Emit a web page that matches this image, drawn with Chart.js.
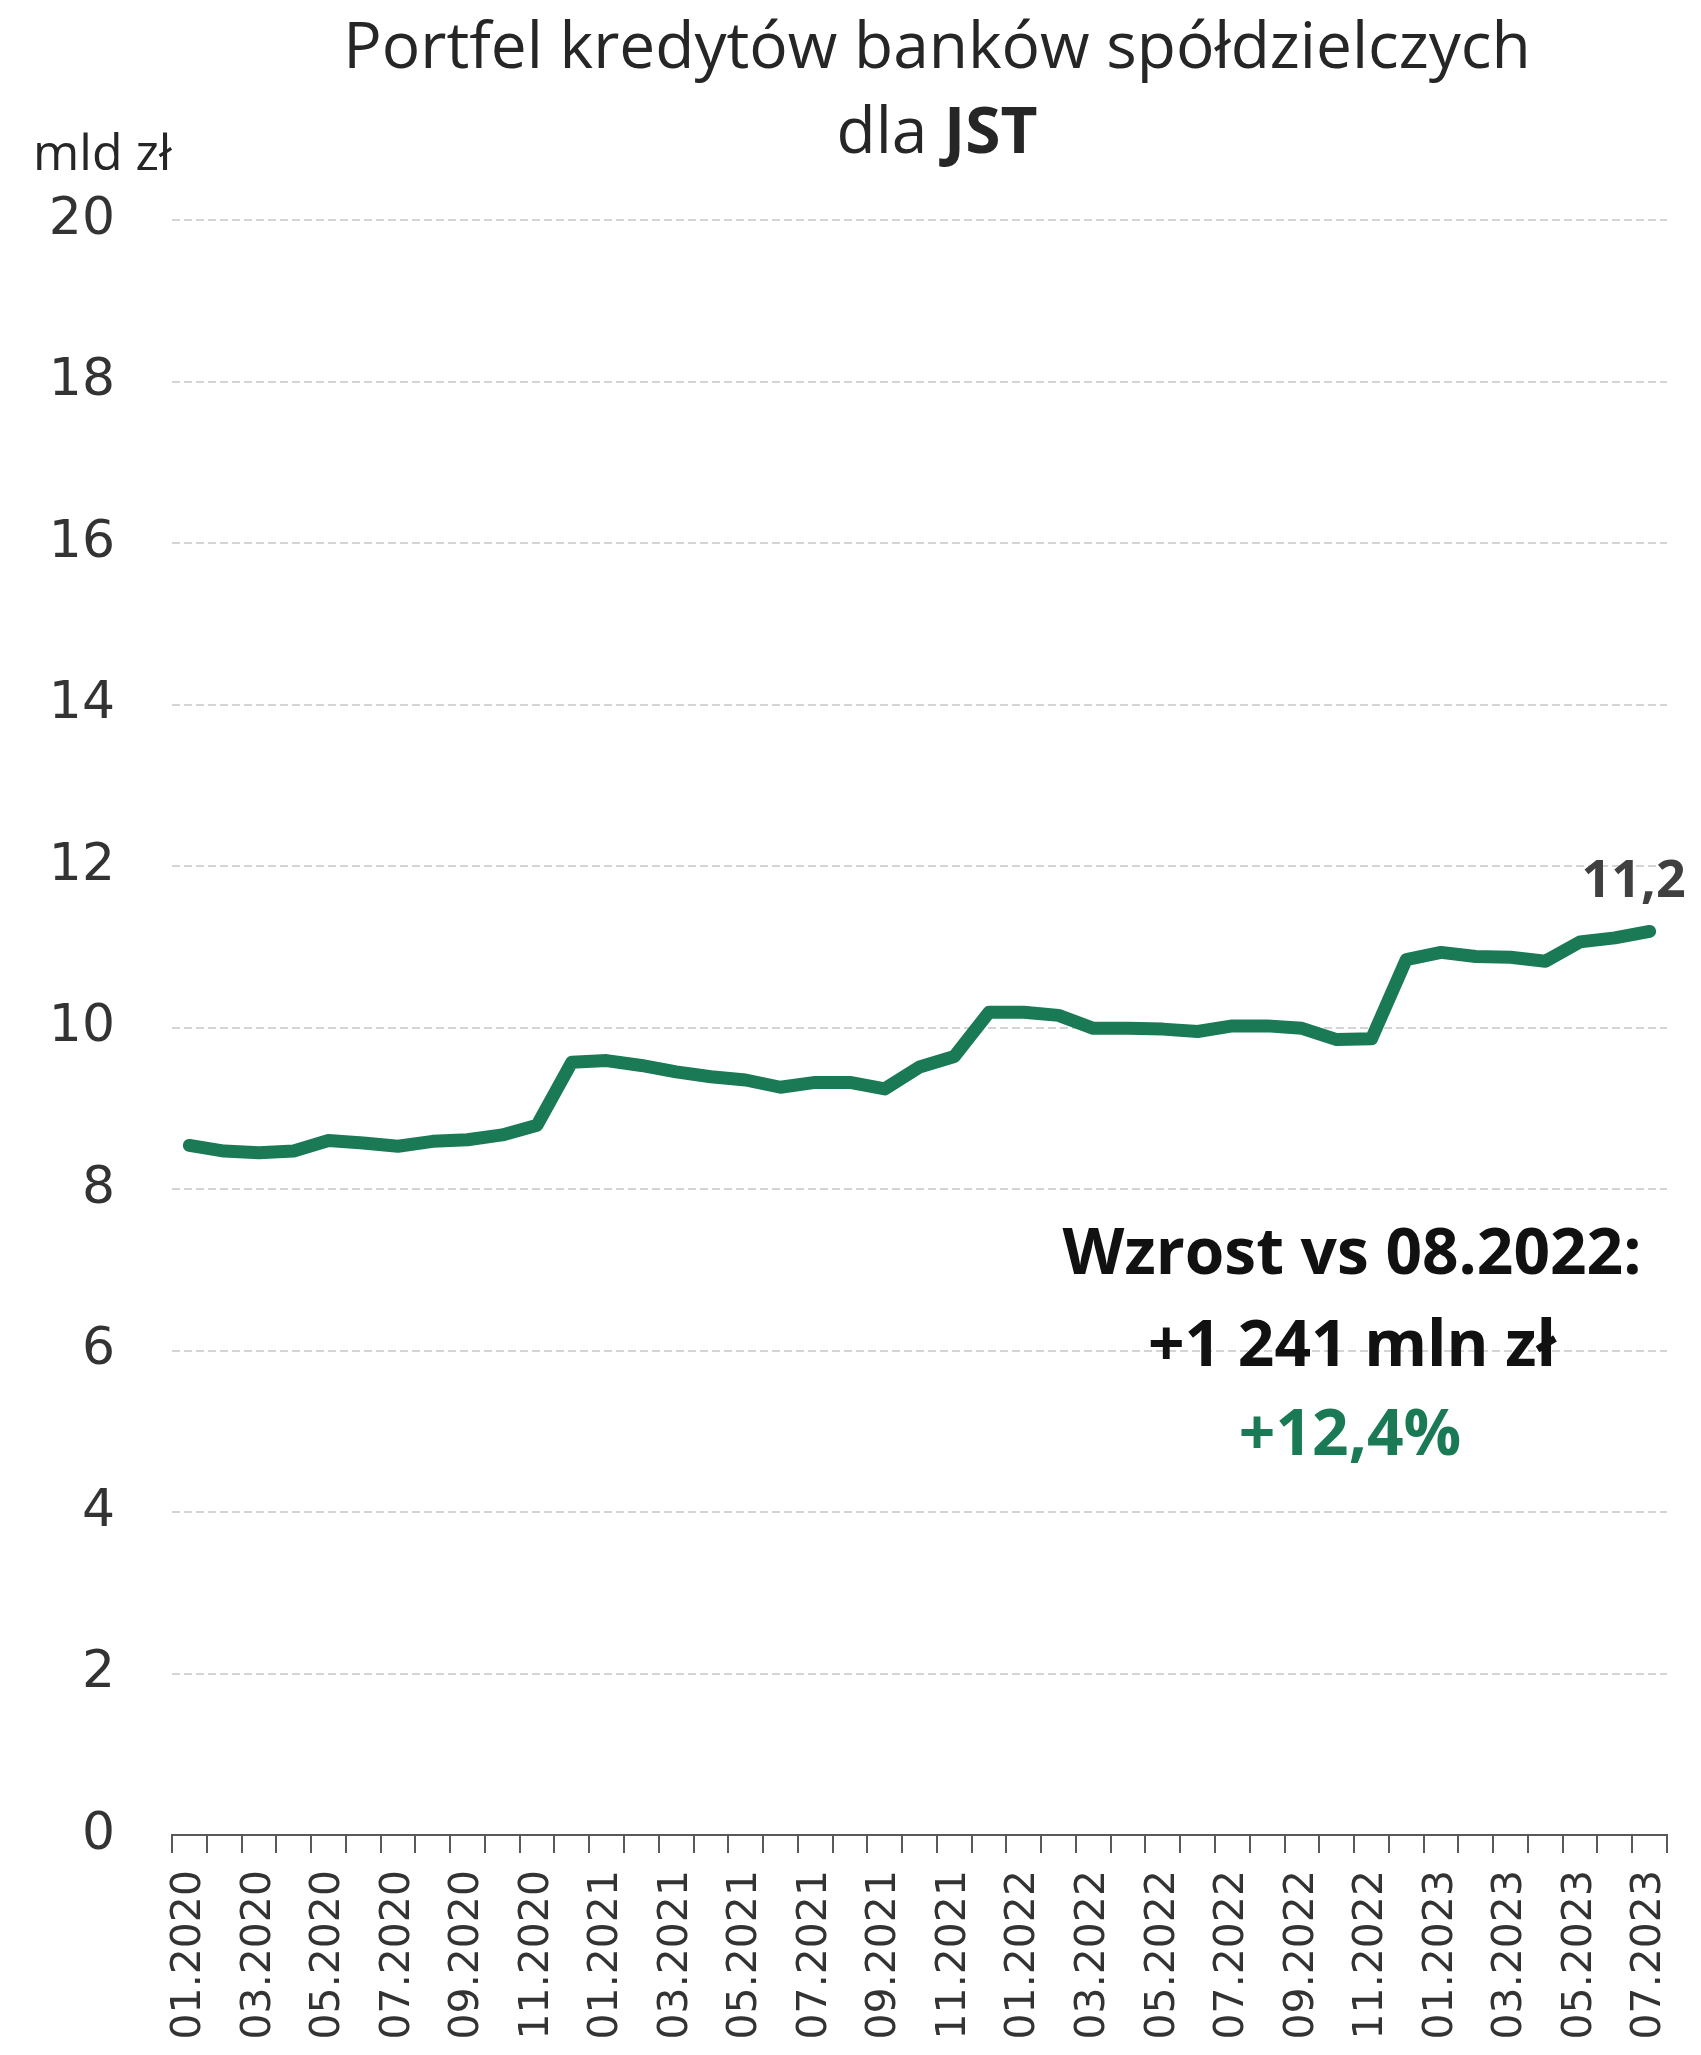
<!DOCTYPE html>
<html>
<head>
<meta charset="utf-8">
<script src="https://cdn.jsdelivr.net/npm/chart.js@4/dist/chart.umd.min.js"></script>
<style>
  html, body { margin: 0; padding: 0; background: #ffffff; }
  canvas { display: block; }
</style>
</head>
<body>
<canvas id="chart" width="1701" height="2055"></canvas>
<script>
// ---------------- data ----------------
const categories = [
  '01.2020','02.2020','03.2020','04.2020','05.2020','06.2020','07.2020','08.2020','09.2020','10.2020','11.2020','12.2020',
  '01.2021','02.2021','03.2021','04.2021','05.2021','06.2021','07.2021','08.2021','09.2021','10.2021','11.2021','12.2021',
  '01.2022','02.2022','03.2022','04.2022','05.2022','06.2022','07.2022','08.2022','09.2022','10.2022','11.2022','12.2022',
  '01.2023','02.2023','03.2023','04.2023','05.2023','06.2023','07.2023'
];
const loansJST = [
  8.54, 8.47, 8.45, 8.47, 8.60, 8.57, 8.53, 8.59, 8.61, 8.67, 8.79, 9.57,
  9.59, 9.53, 9.45, 9.39, 9.35, 9.26, 9.32, 9.32, 9.24, 9.51, 9.64, 10.19,
  10.19, 10.15, 9.99, 9.99, 9.98, 9.95, 10.02, 10.02, 9.99, 9.85, 9.86, 10.84,
  10.93, 10.88, 10.87, 10.82, 11.06, 11.11, 11.19
];
const yMin = 0;
const yMax = 20;
const yStep = 2;
const titleLine1 = 'Portfel kredytów banków spółdzielczych';
const titleLine2Plain = 'dla ';
const titleLine2Bold = 'JST';
const unitLabel = 'mld zł';
const lastValueLabel = '11,2';
const noteLine1 = 'Wzrost vs 08.2022:';
const noteLine2 = '+1 241 mln zł';
const noteLine3 = '+12,4%';

// ---------------- styles ----------------
const GREEN = '#1a7a56';
const TEXT = '#262626';
const AXIS = '#595959';

const overlay = {
  id: 'overlay',
  afterDraw(chart) {
    const ctx = chart.ctx;
    ctx.save();
    ctx.textBaseline = 'alphabetic';

    // title
    ctx.fillStyle = TEXT;
    ctx.textAlign = 'center';
    ctx.font = '64px "Open Sans"';
    ctx.fillText(titleLine1, 937, 68);
    const fReg = '64px "Open Sans"';
    const fBold = 'bold 64px "Open Sans"';
    ctx.font = fReg;
    const w1 = ctx.measureText(titleLine2Plain).width;
    ctx.font = fBold;
    const w2 = ctx.measureText(titleLine2Bold).width;
    const x0 = 937 - (w1 + w2) / 2;
    ctx.textAlign = 'left';
    ctx.font = fReg;
    ctx.fillText(titleLine2Plain, x0, 153);
    ctx.font = fBold;
    ctx.fillText(titleLine2Bold, x0 + w1, 153);

    // unit label
    ctx.font = '50px "Open Sans"';
    ctx.textAlign = 'left';
    ctx.fillText(unitLabel, 33, 170);

    // last value label
    const meta = chart.getDatasetMeta(0);
    const lastPt = meta.data[meta.data.length - 1];
    ctx.font = 'bold 52px "Open Sans"';
    ctx.textAlign = 'center';
    ctx.fillStyle = '#404040';
    ctx.fillText(lastValueLabel, lastPt.x - 16, lastPt.y - 34);

    // note
    ctx.font = 'bold 64px "Open Sans"';
    ctx.fillStyle = '#111111';
    ctx.fillText(noteLine1, 1352, 1274);
    ctx.fillText(noteLine2, 1352, 1366);
    ctx.fillStyle = GREEN;
    ctx.fillText(noteLine3, 1350, 1455);

    ctx.restore();
  }
};

new Chart(document.getElementById('chart'), {
  type: 'line',
  data: {
    labels: categories,
    datasets: [{
      data: loansJST,
      borderColor: GREEN,
      backgroundColor: GREEN,
      borderWidth: 13,
      pointRadius: 0,
      tension: 0,
      borderJoinStyle: 'round',
      borderCapStyle: 'round',
      fill: false
    }]
  },
  options: {
    responsive: false,
    animation: false,
    devicePixelRatio: 1,
    layout: { padding: { top: 220, right: 34, bottom: 0, left: 0 } },
    plugins: {
      legend: { display: false },
      tooltip: { enabled: false },
      title: { display: false }
    },
    scales: {
      x: {
        type: 'category',
        offset: true,
        afterFit(scale) {
          scale.height = 220;
          scale.paddingLeft = 0;
          scale.paddingRight = 0;
        },
        grid: {
          display: true,
          offset: true,
          drawOnChartArea: false,
          drawTicks: true,
          tickLength: 18,
          color: AXIS,
          lineWidth: 2
        },
        border: { display: true, color: AXIS, width: 2 },
        ticks: {
          autoSkip: false,
          maxRotation: 90,
          minRotation: 90,
          padding: 17,
          color: '#333333',
          font: { family: '"DejaVu Sans"', size: 41 },
          callback(value, index) {
            return index % 2 === 0 ? categories[index] : '';
          }
        }
      },
      y: {
        min: yMin,
        max: yMax,
        afterFit(scale) { scale.width = 172; },
        grid: {
          display: true,
          drawTicks: false,
          color: '#d4d4d4',
          lineWidth: 2
        },
        border: { display: false, dash: [8, 4] },
        ticks: {
          stepSize: yStep,
          padding: 57,
          color: '#333333',
          font: { family: '"DejaVu Sans"', size: 52 },
          callback(value) { return String(value); }
        }
      }
    }
  },
  plugins: [overlay]
});
</script>
</body>
</html>
